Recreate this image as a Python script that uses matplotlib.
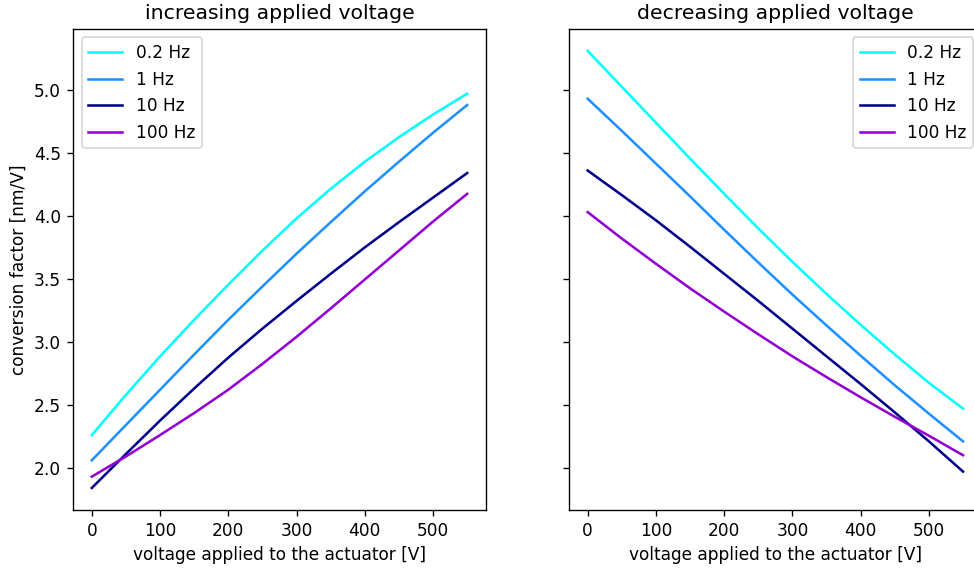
import matplotlib
matplotlib.use("Agg")
import matplotlib.pyplot as plt

# voltage samples [V]
voltage = [0, 50, 100, 150, 200, 250, 300, 350, 400, 450, 500, 550]

freq_labels = ["0.2 Hz", "1 Hz", "10 Hz", "100 Hz"]
colors = ["cyan", "dodgerblue", "darkblue", "darkviolet"]

# conversion factor [nm/V], increasing voltage
inc_02 = [2.26, 2.58, 2.885, 3.175, 3.455, 3.725, 3.98, 4.215, 4.43, 4.625, 4.805, 4.97]
inc_1 = [2.06, 2.34, 2.62, 2.90, 3.175, 3.44, 3.70, 3.95, 4.195, 4.43, 4.66, 4.88]
inc_10 = [1.84, 2.11, 2.375, 2.63, 2.875, 3.105, 3.325, 3.54, 3.75, 3.95, 4.145, 4.34]
inc_100 = [1.93, 2.09, 2.26, 2.435, 2.62, 2.825, 3.04, 3.265, 3.495, 3.725, 3.955, 4.175]

# conversion factor [nm/V], decreasing voltage
dec_02 = [5.31, 5.025, 4.74, 4.455, 4.175, 3.90, 3.635, 3.38, 3.135, 2.90, 2.675, 2.47]
dec_1 = [4.93, 4.675, 4.415, 4.155, 3.89, 3.63, 3.375, 3.13, 2.89, 2.655, 2.43, 2.21]
dec_10 = [4.36, 4.165, 3.965, 3.755, 3.54, 3.325, 3.105, 2.885, 2.665, 2.44, 2.21, 1.97]
dec_100 = [4.03, 3.82, 3.62, 3.425, 3.24, 3.06, 2.885, 2.72, 2.56, 2.405, 2.255, 2.10]


def main():
    dpi = 122
    fig, (ax1, ax2) = plt.subplots(1, 2, sharey=True, figsize=(974 / dpi, 569 / dpi), dpi=dpi)
    fig.subplots_adjust(left=0.075, right=1.008, top=0.949, bottom=0.104, wspace=0.201)

    for ys, lab, col in zip([inc_02, inc_1, inc_10, inc_100], freq_labels, colors):
        ax1.plot(voltage, ys, color=col, label=lab)
    for ys, lab, col in zip([dec_02, dec_1, dec_10, dec_100], freq_labels, colors):
        ax2.plot(voltage, ys, color=col, label=lab)

    ax1.set_title("increasing applied voltage")
    ax2.set_title("decreasing applied voltage")
    ax1.set_xlabel("voltage applied to the actuator [V]")
    ax2.set_xlabel("voltage applied to the actuator [V]")
    ax1.set_ylabel("conversion factor [nm/V]")
    ax1.legend(loc="upper left")
    ax2.legend(loc="upper right")

    fig.savefig("out.png", dpi=dpi)


if __name__ == '__main__':
    main()
